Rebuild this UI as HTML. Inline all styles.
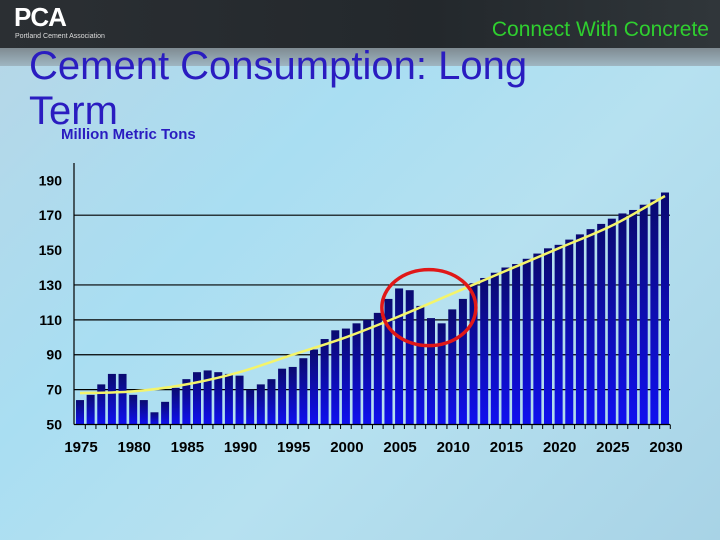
<!DOCTYPE html>
<html><head><meta charset="utf-8"><style>
html,body{margin:0;padding:0;}
body{width:720px;height:540px;overflow:hidden;position:relative;font-family:"Liberation Sans",sans-serif;
background:linear-gradient(135deg,#b7d6e6 0%,#a9def2 35%,#b6e1f0 60%,#a8d3e6 100%);}
#hdr{position:absolute;left:0;top:0;width:720px;height:48px;background:linear-gradient(90deg,#2b2f33,#23282c 60%,#30363a);}
#band{position:absolute;left:0;top:48px;width:720px;height:18px;background:linear-gradient(180deg,#7f8b92,#9fb6c2);}
.t{position:absolute;white-space:nowrap;}
</style></head><body>
<div id="hdr"></div>
<div id="band"></div>
<div class="t" style="left:14px;top:2px;color:#fff;font-size:26px;font-weight:bold;letter-spacing:-1px;font-family:'Liberation Sans Narrow','Liberation Sans',sans-serif;">PCA</div>
<div class="t" style="left:15px;top:33px;color:#ddd;font-size:7px;">Portland Cement Association</div>
<div class="t" style="right:11px;top:18px;color:#2fcf2f;font-size:21px;">Connect With Concrete</div>
<div class="t" style="left:29px;top:44px;color:#2a1cc0;font-size:40px;line-height:45px;">Cement Consumption: Long<br>Term</div>
<div class="t" style="left:61px;top:126px;color:#2a1cc0;font-size:15px;font-weight:bold;">Million Metric Tons</div>
<svg id="chart" width="720" height="540" style="position:absolute;left:0;top:0">
<defs><linearGradient id="bg" x1="0" y1="0" x2="0" y2="1"><stop offset="0" stop-color="#0a0a70"/><stop offset="1" stop-color="#1010f0"/></linearGradient></defs>
</svg>
<script>
const years=[1975,1976,1977,1978,1979,1980,1981,1982,1983,1984,1985,1986,1987,1988,1989,1990,1991,1992,1993,1994,1995,1996,1997,1998,1999,2000,2001,2002,2003,2004,2005,2006,2007,2008,2009,2010,2011,2012,2013,2014,2015,2016,2017,2018,2019,2020,2021,2022,2023,2024,2025,2026,2027,2028,2029,2030];
const consumption=[64,67,73,79,79,67,64,57,63,71,76,80,81,80,79,78,70,73,76,82,83,88,93,99,104,105,108,110,114,122,128,127,118,111,108,116,122,131,134,137,140,142,145,148,151,153,156,159,162,165,168,171,173,176,179,183];
const trendYears=[1975,1980,1985,1990,1995,2000,2005,2010,2015,2020,2025,2030];
const trendValues=[68,69,73,80,90,100,112,125,138,151,164,181];
const yTicks=[50,70,90,110,130,150,170,190];
const xTicks=[1975,1980,1985,1990,1995,2000,2005,2010,2015,2020,2025,2030];
const gridVals=[70,90,110,130,170];
const NS='http://www.w3.org/2000/svg';
const svg=document.getElementById('chart');
const X=y=>80+(y-1975)*(585/55);
const Y=v=>424.5-(v-50)*(244.2/140);
function mk(t,a){const e=document.createElementNS(NS,t);for(const k in a)e.setAttribute(k,a[k]);svg.appendChild(e);return e;}
gridVals.forEach(v=>{const l=mk('line',{x1:74,x2:670,y1:Y(v),y2:Y(v),stroke:'#000','stroke-width':1.2});

});
consumption.forEach((v,i)=>{const r=mk('rect',{x:X(years[i])-4,y:Y(v),width:8,height:Y(50)-Y(v),fill:'url(#bg)'});

});
const ya=mk('line',{x1:74,x2:74,y1:163,y2:424.5,stroke:'#000','stroke-width':1.2});


const xa=mk('line',{x1:74,x2:670,y1:424.5,y2:424.5,stroke:'#000','stroke-width':1.2});


years.forEach(y=>{const tk=mk('line',{x1:X(y)+5.3,x2:X(y)+5.3,y1:424.5,y2:429,stroke:'#000','stroke-width':1});

});
yTicks.forEach(v=>{const t=mk('text',{x:62,y:Y(v)+5,'text-anchor':'end','font-size':14,'font-weight':'bold','font-family':'Liberation Sans,sans-serif'});t.textContent=v;

});
xTicks.forEach(y=>{const t=mk('text',{x:X(y)+1,y:452,'text-anchor':'middle','font-size':15,'font-weight':'bold','font-family':'Liberation Sans,sans-serif'});t.textContent=y;

});
const pts=trendYears.map((y,i)=>[X(y),Y(trendValues[i])]);
let d='M'+pts[0][0]+','+pts[0][1];
for(let i=0;i<pts.length-1;i++){const p0=pts[i-1]||pts[i],p1=pts[i],p2=pts[i+1],p3=pts[i+2]||p2;
d+=' C'+(p1[0]+(p2[0]-p0[0])/6)+','+(p1[1]+(p2[1]-p0[1])/6)+' '+(p2[0]-(p3[0]-p1[0])/6)+','+(p2[1]-(p3[1]-p1[1])/6)+' '+p2[0]+','+p2[1];}
const tl=mk('path',{d:d,fill:'none',stroke:'#f4f46a','stroke-width':2.5});


const el=mk('ellipse',{cx:X(2007.8),cy:Y(117),rx:47,ry:38,fill:'none',stroke:'#e01818','stroke-width':3.5});


</script>
</body></html>
